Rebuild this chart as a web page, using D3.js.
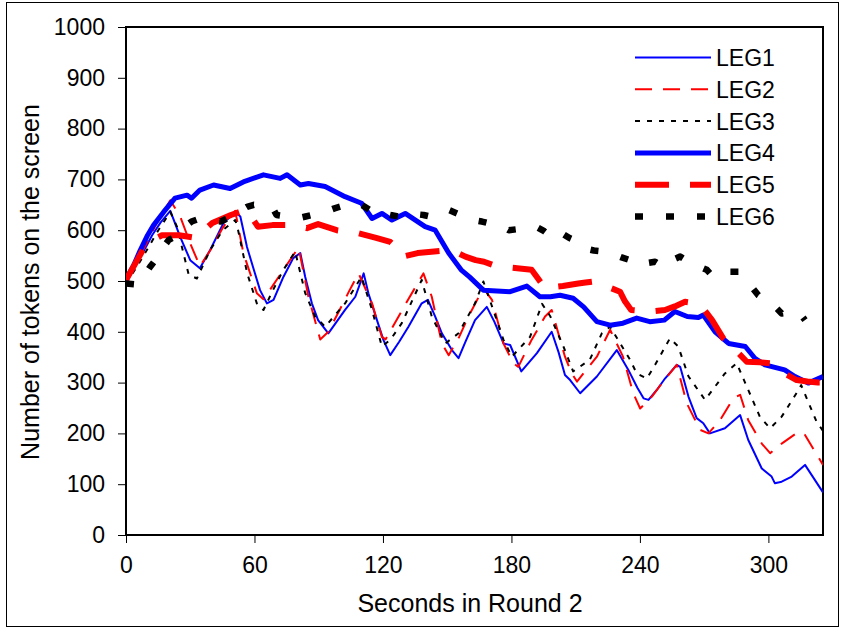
<!DOCTYPE html>
<html><head><meta charset="utf-8">
<script src="https://cdn.jsdelivr.net/npm/d3@7"></script>
<style>body{margin:0;background:#fff}svg{display:block}text{font-family:"Liberation Sans",Arial,sans-serif;fill:#000}</style>
</head><body><svg id="c" width="841" height="634"></svg>
<script>
// [seconds, tokens]
const leg1 = [[0,502],[4.5,530],[8.4,560],[12.2,590],[16.1,615],[20.7,638],[25.3,587],[30,541],[34.5,525],[39.3,561],[45.5,614],[51,636],[53.4,627],[56.5,567],[59.7,522],[62.6,482],[65.8,456],[68.9,463],[73.5,508],[78.1,545],[81.4,555],[83.7,508],[86.8,456],[89.7,423],[94.5,397],[98.4,420],[102.3,443],[107.1,469],[111,515],[113.2,476],[117.2,423],[120.2,384],[123.4,354],[127.5,380],[131.9,410],[138.1,456],[141,463],[144.4,430],[147.5,397],[152.2,364],[155.3,348],[158.5,380],[163,423],[168.5,449],[172,420],[176.3,377],[179.4,374],[184.6,322],[191.9,358],[198.8,400],[202,360],[205,315],[207.4,305],[212.1,279],[219.9,312],[229.2,364],[234.6,325],[238.8,290],[241.7,269],[244,266],[247.8,285],[251.7,308],[257.2,335],[258.8,331],[262.7,272],[266.5,230],[269.6,220],[272.7,200],[279.7,210],[286.8,236],[290.6,187],[296.9,131],[301.5,115],[303,102],[306.2,105],[310.9,115],[317.1,138],[325.5,84]];
const leg2 = [[0,502],[5.4,540],[10.3,580],[15.1,620],[20.7,659],[25.4,626],[30,574],[34.5,529],[39.3,560],[45.2,605],[51,638],[54.8,555],[61.1,476],[64.2,464],[68.4,490],[73.5,522],[80.6,566],[85.2,469],[90.7,385],[94.5,400],[99.4,440],[104.2,480],[108.6,515],[114.9,456],[119.5,390],[121.2,385],[125.5,417],[131.3,460],[138.9,515],[142.8,469],[147.5,377],[150.7,354],[155.6,390],[159.9,430],[166.9,486],[170.9,463],[176.3,377],[180.9,338],[183.2,331],[189.4,384],[195.7,430],[198.8,443],[205,351],[208.2,318],[210.6,302],[219.9,351],[226.1,404],[232.1,351],[236.9,279],[240.1,249],[245.5,272],[251.4,305],[257.2,335],[261.9,259],[268.1,207],[272,200],[277.4,226],[283.6,269],[286.8,276],[290.6,226],[296.9,180],[300.8,161],[306.2,180],[314,203],[317.1,197],[325.5,138]];
const leg3 = [[0,495],[5.4,530],[10.3,565],[15.1,600],[20.7,636],[23.8,607],[29.3,512],[33.1,505],[39.3,561],[45.2,600],[51,620],[52,607],[56.6,515],[61.1,456],[64.2,443],[68.4,480],[73.2,520],[79,558],[83.7,476],[88.3,430],[93,410],[102.3,456],[110,508],[114.9,443],[119.5,371],[123.6,385],[128.8,417],[138.1,502],[142.8,430],[149.1,377],[155.3,397],[163,456],[166.9,499],[171.5,443],[176.3,384],[180.2,351],[188.7,390],[194.3,455],[198.2,430],[204.3,371],[208.8,322],[216.6,345],[222.2,397],[226.1,410],[235.4,345],[238.5,318],[243.2,308],[247.1,335],[254,387],[257.9,371],[262.7,312],[270.4,266],[279.7,318],[285.2,338],[289.2,299],[296,233],[300.8,210],[306.2,233],[314,285],[315.3,295],[322.5,223],[325.5,205]];
const leg4 = [[0,502],[3.5,530],[6.7,561],[9.8,588],[12.9,610],[17.6,636],[22.9,663],[28.5,669],[30.6,663],[34.5,679],[40.9,689],[48.6,682],[54.8,695],[64.2,709],[72,702],[75.2,709],[81.4,689],[85.2,692],[93,686],[102.3,666],[110,653],[114.9,623],[119.5,633],[124.2,620],[130.4,633],[139.7,607],[144.4,600],[150.7,555],[156.5,522],[160.4,508],[166.9,482],[179.4,479],[187.2,490],[193.3,469],[198.2,469],[202.7,472],[208.8,466],[213.7,449],[219.9,420],[226.1,413],[232.1,417],[238.5,427],[244.6,420],[251.4,423],[256.3,440],[262.1,430],[267.3,428],[269.6,433],[275.1,400],[281.4,377],[289.2,371],[293.7,348],[298.4,335],[307.6,325],[312.4,312],[318.6,299],[325.5,312]];
const leg5 = [[0,502],[8.4,565],[12.2,580],[16.8,590],[24.8,590],[32.4,585],[36.4,600],[40.3,614],[49,630],[55.8,640],[58.7,625],[61.6,607],[68.4,610],[78.1,610],[81,607],[84.5,604],[89.7,612],[98.4,600],[103.3,597],[108.6,594],[116.8,585],[123.4,577],[126.5,565],[129.4,548],[136.2,555],[143.9,558],[148.8,560],[153.6,558],[158.5,548],[163.3,541],[167.2,538],[171,532],[175.5,528],[182.7,525],[189.4,522],[192.4,505],[195.7,486],[204,490],[211.2,495],[214.6,497],[218.3,499],[225.3,488],[230.7,479],[233,460],[235.9,443],[244.6,440],[251.7,443],[256.3,450],[261.1,459],[267.9,455],[273.7,423],[278.9,387],[284.4,365],[289.9,341],[296,340],[300.8,338],[306.6,320],[313.2,305],[318.2,302],[323.1,300],[325.5,300]];
const leg6 = [[0,495],[5.4,493],[8.4,510],[11.3,528],[13.7,541],[17.1,565],[20,581],[22.9,587],[26.8,605],[30.6,617],[34.5,623],[39.3,620],[44.2,617],[47.1,623],[51.9,635],[56.5,646],[59.7,650],[64.5,648],[68.2,646],[70.3,630],[75.2,627],[80,623],[83.9,627],[88.7,632],[93,636],[97.4,643],[101.3,648],[105.2,653],[110,650],[113.9,640],[117.2,630],[120.3,633],[123.6,630],[127.3,627],[130.4,633],[134.2,632],[138.9,630],[142,627],[145.9,635],[150.7,640],[154.6,633],[158.5,626],[162.3,620],[166.2,617],[171,612],[174.9,610],[178.8,600],[182.7,602],[187.5,604],[191.4,607],[195.3,598],[199.6,584],[203.5,594],[206.9,585],[211.2,577],[214.4,564],[218.5,560],[223,558],[226.8,554],[231.1,547],[235.4,541],[238.5,531],[242.7,535],[247.1,538],[250.9,528],[254.3,540],[258.8,548],[262.7,538],[266.9,530],[271.2,522],[274.3,508],[278.5,514],[282.1,518],[286,518],[289.2,503],[292.1,489],[295.3,472],[298.9,462],[302.3,453],[306.2,436],[309.5,438],[314,440],[317.1,423]];

const seriesNames = ["LEG1","LEG2","LEG3","LEG4","LEG5","LEG6"];
const xTicks = [0,60,120,180,240,300];
const yTicks = [0,100,200,300,400,500,600,700,800,900,1000];
const xTitle = "Seconds in Round 2";
const yTitle = "Number of tokens on the screen";

const styles = [
  {color:"#0000ff", w:2, dash:null},
  {color:"#ff0000", w:2, dash:"17 11"},
  {color:"#000000", w:2, dash:"5 7"},
  {color:"#0000ff", w:5, dash:null},
  {color:"#ff0000", w:6, dash:"34 21"},
  {color:"#000000", w:6.5, dash:"8 23"}
];
const data = [leg1,leg2,leg3,leg4,leg5,leg6];

const svg = d3.select("#c");
const L=126, R=823, T=27, B=535;
const x = d3.scaleLinear().domain([0,325.5]).range([L,R]);
const y = d3.scaleLinear().domain([0,1000]).range([B,T]);

svg.append("rect").attr("x",0).attr("y",0).attr("width",841).attr("height",634).attr("fill","#fff");
svg.append("rect").attr("x",6.5).attr("y",2.5).attr("width",832).attr("height",624).attr("fill","none").attr("stroke","#000").attr("stroke-width",1);

svg.append("defs").append("clipPath").attr("id","clip").append("rect")
  .attr("x",L).attr("y",T-3).attr("width",R-L).attr("height",B-T+3);

// axes
const yAxis = svg.append("g").attr("transform",`translate(${L},0)`)
  .call(d3.axisLeft(y).tickValues(yTicks).tickSize(8).tickPadding(13).tickFormat(d3.format("d")));
const xAxis = svg.append("g").attr("transform",`translate(0,${B})`)
  .call(d3.axisBottom(x).tickValues(xTicks).tickSize(8).tickPadding(14).tickFormat(d3.format("d")));
[yAxis,xAxis].forEach(g=>{
  g.select(".domain").remove();
  g.selectAll(".tick line").attr("stroke","#000").attr("stroke-width",1);
  g.selectAll(".tick text").style("font-size","23px").style("font-family",'"Liberation Sans",Arial,sans-serif').attr("fill","#000");
});
xAxis.selectAll(".tick text").attr("dy","0.71em");

// frame
svg.append("rect").attr("x",L).attr("y",T).attr("width",R-L).attr("height",B-T)
  .attr("fill","none").attr("stroke","#000").attr("stroke-width",2);

const line = d3.line().x(d=>x(d[0])).y(d=>y(d[1]));
const plot = svg.append("g").attr("clip-path","url(#clip)");
data.forEach((s,i)=>{
  const st = styles[i];
  plot.append("path").datum(s).attr("d",line).attr("fill","none")
    .attr("stroke",st.color).attr("stroke-width",st.w)
    .attr("stroke-dasharray",st.dash).attr("stroke-linejoin","round");
});

// legend
const lg = svg.append("g");
seriesNames.forEach((n,i)=>{
  const st = styles[i];
  const yy = 57.5 + i*31.8;
  lg.append("line").attr("x1",635).attr("x2",711).attr("y1",yy).attr("y2",yy)
    .attr("stroke",st.color).attr("stroke-width",st.w).attr("stroke-dasharray",st.dash);
  lg.append("text").attr("x",716).attr("y",yy+8.5).style("font-size","23px").text(n);
});

// titles
svg.append("text").attr("x",470).attr("y",612).attr("text-anchor","middle").style("font-size","25px").text(xTitle);
svg.append("text").attr("transform","translate(39,282) rotate(-90)").attr("text-anchor","middle").style("font-size","25px").text(yTitle);
</script></body></html>
